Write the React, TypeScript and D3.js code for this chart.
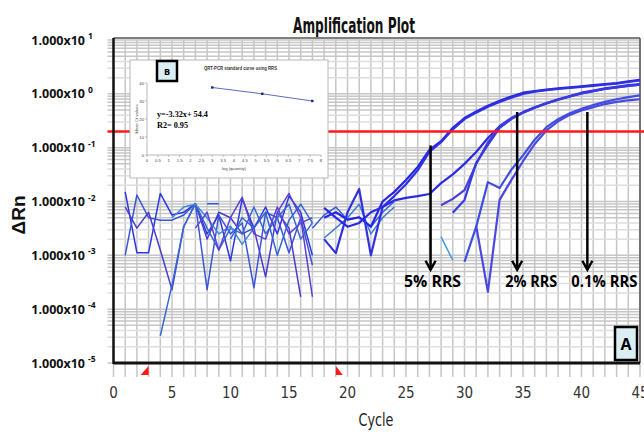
import React from 'react';
import * as d3 from 'd3';

// ---- axis data ----
const CYCLE_TICKS = [0, 5, 10, 15, 20, 25, 30, 35, 40, 45];
const DECADES = [1e-5, 1e-4, 1e-3, 1e-2, 1e-1, 1e0, 1e1];
const THRESHOLD = 0.2;
const BASELINE_MARKS = [3, 19];

// ---- wells: first cycle + ΔRn per cycle ----
// baseline noise, cycles 1-17
const well01 = { start: 1, dRn: [0.0151, 0.00112, 0.00112, 0.0141, 0.0056, 0.0063, 0.0091, 0.0025, 0.0056, 0.00079, 0.0112, 0.0032, 0.0079, 0.0025, 0.0126, 0.0063, 0.001] };
const well02 = { start: 1, dRn: [0.001, 0.0132, 0.005, 0.0045, 0.0045, 0.0056, 0.0091, 0.00023, 0.0056, 0.0025, 0.004, 0.00025, 0.0063, 0.005, 0.00112, 0.005, 0.00066] };
const well03 = { start: 1, dRn: [0.0079, 0.0032, 0.0063, 0.00126, 0.00023, 0.0034, 0.0091, 0.002, 0.0063, 0.005, 0.0025, 0.0032, 0.0004, 0.0063, 0.0032, 0.00017] };
const well04 = { start: 4, dRn: [0.000032, 0.00028, 0.0034, 0.0091, 0.0032, 0.00126, 0.0032, 0.0025, 0.0079, 0.0025, 0.005, 0.0089, 0.002, 0.004] };
const well05 = { start: 5, dRn: [0.005, 0.0079, 0.0089, 0.005, 0.0025, 0.0035, 0.0016, 0.0032] };
const well06 = { start: 7, dRn: [0.0032, 0.0063, 0.00126, 0.005, 0.012, 0.0025, 0.002, 0.0079, 0.0025, 0.004, 0.005] };
const well07 = { start: 8, dRn: [0.0091, 0.0091] };
const well08 = { start: 10, dRn: [0.002, 0.005, 0.0032, 0.0063, 0.001, 0.0045, 0.0089, 0.004] };
const well09 = { start: 14, dRn: [0.0063, 0.0141, 0.005, 0.00017] };
// noise after the baseline window
const well10 = { start: 17, dRn: [0.0032, 0.0056, 0.0079, 0.0046, 0.0051, 0.0034, 0.0063, 0.01] };
const well11 = { start: 18, dRn: [0.0021, 0.0032, 0.005, 0.0089, 0.0025, 0.005, 0.0079] };
const well12 = { start: 28, dRn: [0.0022, 0.00081] };
// 5% RRS
const rrs5a = { start: 18, dRn: [0.005, 0.0063, 0.0046, 0.0051, 0.0034, 0.01, 0.0151, 0.025, 0.044, 0.091, 0.132, 0.234, 0.355, 0.468, 0.603, 0.741, 0.891, 1.05, 1.12, 1.2, 1.26, 1.32, 1.38, 1.45, 1.51, 1.58, 1.7, 1.82] };
const rrs5b = { start: 18, dRn: [0.002, 0.0011, 0.0063, 0.017, 0.001, 0.0079, 0.0126, 0.0209, 0.038, 0.083, 0.126, 0.219, 0.339, 0.447, 0.575, 0.708, 0.851, 1.0, 1.1, 1.17, 1.23, 1.29, 1.35, 1.41, 1.48, 1.55, 1.66, 1.78] };
// 2% RRS
const rrs2a = { start: 18, dRn: [0.0076, 0.005, 0.0034, 0.004, 0.0063, 0.0079, 0.0105, 0.0117, 0.0126, 0.0138, 0.0219, 0.032, 0.05, 0.083, 0.151, 0.251, 0.355, 0.457, 0.562, 0.676, 0.794, 0.912, 1.05, 1.15, 1.26, 1.35, 1.45, 1.51] };
const rrs2b = { start: 28, dRn: [0.0085, 0.0112, 0.0162, 0.05, 0.126, 0.24, 0.347, 0.447, 0.55, 0.661, 0.776, 0.891, 1.02, 1.12, 1.23, 1.32, 1.41, 1.48] };
const rrs2c = { start: 29, dRn: [0.0062, 0.0107, 0.052, 0.112, 0.234, 0.339, 0.447, 0.55, 0.661, 0.776, 0.891, 1.02, 1.12, 1.23, 1.32, 1.41, 1.48] };
// 0.1% RRS
const rrs01a = { start: 30, dRn: [0.00076, 0.0034, 0.0229, 0.0178, 0.039, 0.072, 0.141, 0.24, 0.339, 0.437, 0.525, 0.617, 0.708, 0.794, 0.871, 0.933] };
const rrs01b = { start: 31, dRn: [0.0035, 0.00021, 0.0107, 0.025, 0.056, 0.117, 0.209, 0.309, 0.407, 0.49, 0.562, 0.646, 0.708, 0.759, 0.794] };

const WELLS = [well01, well02, well03, well04, well05, well06, well07, well08, well09, well10, well11, well12, rrs5a, rrs5b, rrs2a, rrs2b, rrs2c, rrs01a, rrs01b];
const WELL_COLORS = ['#2b35e0', '#3a55d6', '#4a3ccf', '#3468d4', '#3c8ad6', '#5a43d6', '#3a55d6', '#2f66d3', '#5a3fd0', '#3a5ad8', '#3c7ad6', '#3f9ad8', '#2424e8', '#3030e0', '#2a2ae4', '#4a40d8', '#3a3ae0', '#3e4ee0', '#4a48e0'];

// ---- annotations ----
const ARROW_LABELS = ['5%  RRS', '2% RRS', '0.1% RRS'];
const ARROW_CYCLES = [27.1, 34.5, 40.5];
const ARROW_TOPS = [0.11, 0.46, 0.46];
const ARROW_TIP = 0.00054;

// ---- inset B: standard curve ----
const STD_LOG_QTY = [3, 5.3, 7.6];
const STD_CT = [37.5, 34, 30];
const STD_X_TICKS = [0, 0.5, 1, 1.5, 2, 2.5, 3, 3.5, 4, 4.5, 5, 5.5, 6, 6.5, 7, 7.5, 8];
const STD_Y_TICKS = [0, 10, 20, 30, 40];

const NARROW = '"Liberation Sans Narrow", "DejaVu Sans Condensed", "Arial Narrow", sans-serif';
const BOLD_SANS = '"Open Sans", "Liberation Sans", Arial, sans-serif';

export default function App() {
  const x = d3.scaleLinear().domain([0, 45]).range([113.5, 640]);
  const y = d3.scaleLog().domain([1e-5, 10]).range([363, 40]);
  const yBottom = y(1e-5);
  const yTop = y(10);

  const line = d3
    .line<[number, number]>()
    .defined((d) => d[1] != null && d[1] > 0)
    .x((d) => x(d[0]))
    .y((d) => y(d[1]));

  // log grid: 1..9 x each decade; 2-4 drawn fainter
  const minorGrid: { v: number; faint: boolean }[] = [];
  DECADES.slice(0, -1).forEach((d) => {
    for (let m = 1; m <= 9; m++) minorGrid.push({ v: m * d, faint: m >= 2 && m <= 4 });
  });
  minorGrid.push({ v: DECADES[DECADES.length - 1], faint: false });

  const ix = d3.scaleLinear().domain([0, 8]).range([147, 321]);
  const iy = d3.scaleLinear().domain([0, 40]).range([155, 83]);
  const stdLine = d3
    .line<number>()
    .x((_, i) => ix(STD_LOG_QTY[i]))
    .y((d) => iy(d));

  return (
    <svg
      width={644}
      height={432}
      viewBox="0 0 644 432"
      style={{ position: 'absolute', left: 0, top: 0, background: '#fff', display: 'block' }}
    >
      <rect x={0} y={0} width={644} height={432} fill="#fff" />

      {/* title */}
      <text x={354} y={33} textAnchor="middle" fontFamily={NARROW} fontWeight="bold" fontSize={21}
        textLength={122} lengthAdjust="spacingAndGlyphs" fill="#111">
        Amplification Plot
      </text>

      {/* grid */}
      <g strokeWidth={1.5}>
        {d3.range(0, 46).map((c) => (
          <line key={'v' + c} x1={x(c)} x2={x(c)} y1={yTop} y2={yBottom + 14} stroke="#c6c6c6" />
        ))}
        {minorGrid.map((g, i) => (
          <line key={'h' + i} x1={x(0) - 6} x2={x(45)} y1={y(g.v)} y2={y(g.v)} stroke={g.faint ? '#dedede' : '#c6c6c6'} />
        ))}
      </g>

      {/* frame */}
      <line x1={x(0)} x2={x(45)} y1={yTop - 2} y2={yTop - 2} stroke="#555" strokeWidth={1.5} />
      <line x1={x(45)} x2={x(45)} y1={yTop - 2} y2={yBottom} stroke="#555" strokeWidth={1.5} />

      {/* y tick labels */}
      {DECADES.map((d) => {
        const e = Math.round(Math.log10(d));
        return (
          <g key={'yl' + e} fontFamily={BOLD_SANS} fontWeight="bold" fill="#111">
            <text x={85} y={y(d) + 4.5} textAnchor="end" fontSize={12.5}>1.000x10</text>
            <text x={88} y={y(d) - 1} fontSize={8.5}>{String(e)}</text>
          </g>
        );
      })}
      <text transform="translate(25,215) rotate(-90)" textAnchor="middle" fontFamily='"Liberation Sans", Arial, sans-serif'
        fontWeight="bold" fontSize={19} fill="#111">
        ΔRn
      </text>

      {/* x tick labels */}
      {CYCLE_TICKS.map((c) => (
        <text key={'xl' + c} x={x(c)} y={398} textAnchor="middle" fontFamily={NARROW} fontSize={15} fill="#333">
          {c}
        </text>
      ))}
      <text x={376} y={426} textAnchor="middle" fontFamily={NARROW} fontSize={18} fill="#222"
        textLength={35} lengthAdjust="spacingAndGlyphs">
        Cycle
      </text>

      {/* wells */}
      <g fill="none" strokeLinejoin="round">
        {WELLS.map((w, i) => {
          const pts = w.dRn.map((v, j) => [w.start + j, v] as [number, number]);
          const amp = w.start >= 18 && w.dRn.length > 12;
          return (
            <path key={'w' + i} d={line(pts) || ''} stroke={WELL_COLORS[i]} strokeWidth={amp ? 2.2 : 1.5} />
          );
        })}
      </g>

      {/* threshold */}
      <line x1={x(0) - 6} x2={644} y1={y(THRESHOLD)} y2={y(THRESHOLD)} stroke="#ff1a1a" strokeWidth={2.5} />

      {/* axes */}
      <line x1={x(0)} x2={x(0)} y1={yTop - 2} y2={yBottom + 1} stroke="#111" strokeWidth={2.5} />
      <line x1={x(0)} x2={x(45)} y1={yBottom} y2={yBottom} stroke="#111" strokeWidth={3} />

      {/* baseline markers */}
      <path d={`M${x(BASELINE_MARKS[0])},${yBottom + 3}L${x(BASELINE_MARKS[0])},${yBottom + 12}L${x(BASELINE_MARKS[0]) - 8},${yBottom + 12}Z`} fill="#ff1a1a" />
      <path d={`M${x(BASELINE_MARKS[1])},${yBottom + 3}L${x(BASELINE_MARKS[1])},${yBottom + 12}L${x(BASELINE_MARKS[1]) + 7},${yBottom + 12}Z`} fill="#ff1a1a" />

      {/* arrows */}
      {ARROW_LABELS.map((lab, i) => {
        const ax = x(ARROW_CYCLES[i]);
        const tip = y(ARROW_TIP);
        const dx = [2, 14, 17][i];
        const tl = [57, 52, 66][i];
        return (
          <g key={'a' + i}>
            <line x1={ax} x2={ax} y1={y(ARROW_TOPS[i])} y2={tip} stroke="#000" strokeWidth={2.5} />
            <path d={`M${ax - 5},${tip - 9}L${ax},${tip}L${ax + 5},${tip - 9}`} fill="none" stroke="#000" strokeWidth={2.5} />
            <text x={ax + dx} y={287} textAnchor="middle" fontFamily={BOLD_SANS} fontWeight="bold" fontSize={16}
              textLength={tl} lengthAdjust="spacingAndGlyphs" fill="#000">
              {lab}
            </text>
          </g>
        );
      })}

      {/* panel label A */}
      <rect x={615} y={327} width={22} height={33} fill="#dbeef4" stroke="#000" strokeWidth={2.5} />
      <text x={626} y={350} textAnchor="middle" fontFamily={BOLD_SANS} fontWeight="bold" fontSize={16} fill="#000">A</text>

      {/* inset B */}
      <g>
        <rect x={130} y={60} width={198} height={118} fill="#fff" stroke="#b8b8b8" strokeWidth={1} />
        <rect x={157} y={61} width={20} height={20} fill="#dbeef4" stroke="#000" strokeWidth={2.5} />
        <text x={167} y={74.5} textAnchor="middle" fontFamily={BOLD_SANS} fontWeight="bold" fontSize={9} fill="#000">B</text>
        <text x={240.5} y={70} textAnchor="middle" fontFamily='"Liberation Sans", Arial, sans-serif' fontWeight="bold"
          fontSize={5.2} textLength={73} lengthAdjust="spacingAndGlyphs" fill="#333">
          QRT-PCR standard curve using RRS
        </text>
        <line x1={ix(0)} x2={ix(0)} y1={iy(40)} y2={iy(0)} stroke="#999" strokeWidth={0.7} />
        <line x1={ix(0)} x2={ix(8)} y1={iy(0)} y2={iy(0)} stroke="#999" strokeWidth={0.7} />
        {STD_Y_TICKS.map((t) => (
          <g key={'iy' + t}>
            <line x1={ix(0) - 2} x2={ix(0)} y1={iy(t)} y2={iy(t)} stroke="#999" strokeWidth={0.6} />
            <text x={ix(0) - 3} y={iy(t) + 1.5} textAnchor="end" fontFamily="Arial, sans-serif" fontSize={4.2} fill="#444">{t}</text>
          </g>
        ))}
        {STD_X_TICKS.map((t) => (
          <g key={'ix' + t}>
            <line x1={ix(t)} x2={ix(t)} y1={iy(0)} y2={iy(0) + 2} stroke="#999" strokeWidth={0.6} />
            <text x={ix(t)} y={iy(0) + 7} textAnchor="middle" fontFamily="Arial, sans-serif" fontSize={4.2} fill="#444">{t}</text>
          </g>
        ))}
        <text transform={`translate(138,${iy(20)}) rotate(-90)`} textAnchor="middle" fontFamily="Arial, sans-serif" fontSize={4.2} fill="#444">
          Mean Ct values
        </text>
        <text x={ix(4)} y={170} textAnchor="middle" fontFamily="Arial, sans-serif" fontSize={4.2} fill="#444">log (quantity)</text>
        <path d={stdLine(STD_CT) || ''} fill="none" stroke="#4a5ab8" strokeWidth={0.9} />
        {STD_CT.map((ct, i) => (
          <rect key={'sp' + i} x={ix(STD_LOG_QTY[i]) - 1.2} y={iy(ct) - 1.2} width={2.4} height={2.4} fill="#1a237e" />
        ))}
        <text x={157} y={117} fontFamily='"Liberation Serif", "Times New Roman", serif' fontWeight="bold" fontSize={8.2} fill="#000">
          y=-3.32x+ 54.4
        </text>
        <text x={157} y={127.5} fontFamily='"Liberation Serif", "Times New Roman", serif' fontWeight="bold" fontSize={8.2} fill="#000">
          R2= 0.95
        </text>
      </g>
    </svg>
  );
}
